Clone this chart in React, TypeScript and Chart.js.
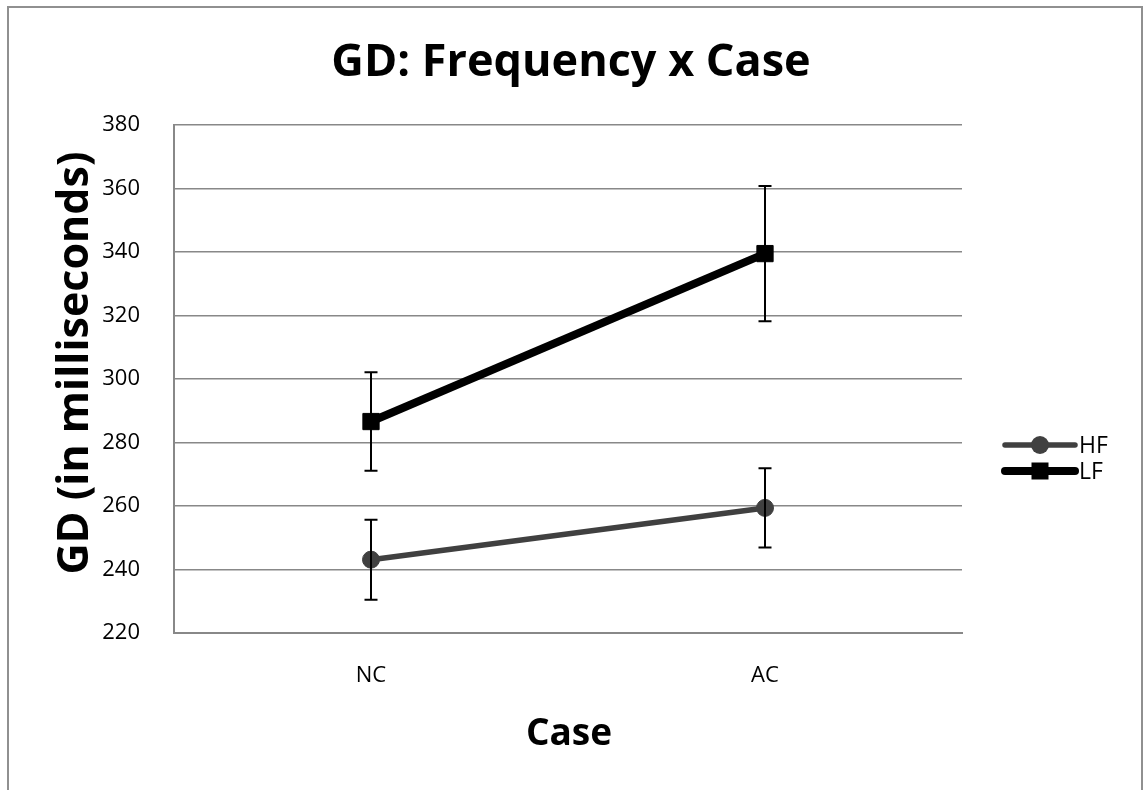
import React, { useEffect, useRef } from 'react';
import { Chart, registerables } from 'chart.js';

Chart.register(...registerables);

const categories = ['NC', 'AC'];
const seriesNames = ['HF', 'LF'];
const hfMeans = [243.1, 259.4];
const hfErrors = [12.6, 12.5];
const lfMeans = [286.6, 339.5];
const lfErrors = [15.5, 21.3];
const yMin = 220;
const yMax = 380;
const yStep = 20;
const titleText = 'GD: Frequency x Case';
const yTitleText = 'GD (in milliseconds)';
const xTitleText = 'Case';

const FONT = '"Open Sans", "Noto Sans", sans-serif';
const errorSets = [hfErrors, lfErrors];

const errorBarPlugin = {
  id: 'errorBars',
  afterDatasetsDraw(chart: any) {
    const { ctx } = chart;
    const y = chart.scales.y;
    chart.data.datasets.forEach((ds: any, di: number) => {
      const meta = chart.getDatasetMeta(di);
      meta.data.forEach((pt: any, i: number) => {
        const v = ds.data[i];
        const e = errorSets[di][i];
        const px = pt.x;
        const top = y.getPixelForValue(v + e);
        const bot = y.getPixelForValue(v - e);
        ctx.save();
        ctx.strokeStyle = '#000';
        ctx.lineWidth = 2;
        ctx.beginPath();
        ctx.moveTo(px, top);
        ctx.lineTo(px, bot);
        ctx.moveTo(px - 6.5, top);
        ctx.lineTo(px + 6.5, top);
        ctx.moveTo(px - 6.5, bot);
        ctx.lineTo(px + 6.5, bot);
        ctx.stroke();
        ctx.restore();
      });
    });
  },
};

const decorPlugin = {
  id: 'decor',
  afterDraw(chart: any) {
    const { ctx } = chart;
    ctx.save();
    ctx.fillStyle = '#000';
    ctx.textBaseline = 'middle';
    ctx.textAlign = 'center';
    // title
    ctx.font = `bold 45px ${FONT}`;
    ctx.fillText(titleText, 571, 63);
    // x title
    ctx.font = `bold 37px ${FONT}`;
    ctx.fillText(xTitleText, 569, 734);
    // y title
    ctx.font = `bold 43px ${FONT}`;
    ctx.save();
    ctx.translate(76, 363);
    ctx.rotate(-Math.PI / 2);
    ctx.fillText(yTitleText, 0, 0);
    ctx.restore();
    // legend
    const rows = [445, 471];
    chart.data.datasets.forEach((ds: any, i: number) => {
      const yy = rows[i];
      ctx.strokeStyle = ds.borderColor;
      ctx.lineWidth = ds.borderWidth;
      ctx.lineCap = 'round';
      ctx.beginPath();
      ctx.moveTo(1005, yy);
      ctx.lineTo(1075, yy);
      ctx.stroke();
      ctx.fillStyle = ds.pointBackgroundColor;
      if (ds.pointStyle === 'rect') {
        ctx.fillRect(1040 - 8.5, yy - 8.5, 17, 17);
      } else {
        ctx.beginPath();
        ctx.arc(1040, yy, 9, 0, Math.PI * 2);
        ctx.fill();
      }
      ctx.fillStyle = '#000';
      ctx.textAlign = 'left';
      ctx.font = `23px ${FONT}`;
      ctx.fillText(ds.label, 1079, yy + 1);
    });
    ctx.restore();
  },
};

export default function App() {
  const ref = useRef<HTMLCanvasElement | null>(null);
  useEffect(() => {
    if (!ref.current) return;
    const chart = new Chart(ref.current, {
      type: 'line',
      data: {
        labels: categories,
        datasets: [
          {
            label: seriesNames[0],
            data: hfMeans,
            borderColor: '#404040',
            borderWidth: 5.5,
            pointStyle: 'circle',
            pointRadius: 8.5,
            pointBorderWidth: 1,
            pointBackgroundColor: '#404040',
            pointBorderColor: '#404040',
            fill: false,
            tension: 0,
          },
          {
            label: seriesNames[1],
            data: lfMeans,
            borderColor: '#000000',
            borderWidth: 8,
            pointStyle: 'rect',
            pointRadius: 11.5,
            pointBorderWidth: 1,
            pointBackgroundColor: '#000000',
            pointBorderColor: '#000000',
            fill: false,
            tension: 0,
          },
        ],
      },
      options: {
        animation: false,
        responsive: false,
        devicePixelRatio: 1,
        layout: { padding: { left: 0, top: 125, right: 182, bottom: 97 } },
        plugins: {
          legend: { display: false },
          title: { display: false },
          tooltip: { enabled: false },
        },
        scales: {
          x: {
            type: 'category',
            offset: true,
            grid: { display: false, drawTicks: false },
            border: { display: true, color: '#888888', width: 2 },
            ticks: { font: { family: FONT, size: 22 }, color: '#000', padding: 30 },
            afterFit: (s: any) => { s.height = 60; },
          },
          y: {
            min: yMin,
            max: yMax,
            ticks: { stepSize: yStep, font: { family: FONT, size: 22 }, color: '#000', padding: 34 },
            grid: { color: '#888888', lineWidth: 1.5, drawTicks: false },
            border: { display: true, color: '#888888', width: 2 },
            afterFit: (s: any) => { s.width = 174; },
          },
        },
      },
      plugins: [errorBarPlugin, decorPlugin],
    } as any);
    return () => chart.destroy();
  }, []);
  return (
    <div style={{ position: 'absolute', left: 0, top: 0, width: 1144, height: 790, overflow: 'hidden', background: '#fff' }}>
      <div
        style={{
          position: 'absolute',
          left: 7,
          top: 6,
          width: 1136,
          height: 820,
          boxSizing: 'border-box',
          borderLeft: '2px solid #909090',
          borderTop: '2px solid #909090',
          borderRight: '2px solid #909090',
        }}
      />
      <canvas
        ref={ref}
        width={1144}
        height={790}
        style={{ position: 'absolute', left: 0, top: 0, width: 1144, height: 790 }}
      />
    </div>
  );
}
